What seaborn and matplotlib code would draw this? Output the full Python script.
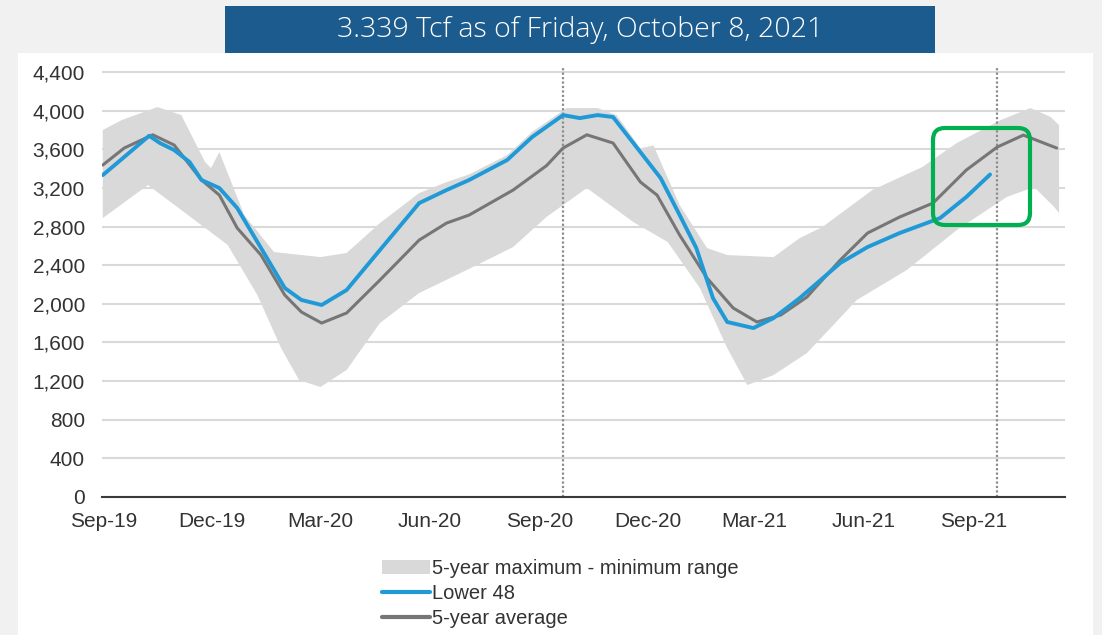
import seaborn as sns
import matplotlib
matplotlib.use("Agg")
import matplotlib.pyplot as plt
import matplotlib.dates as mdates
import matplotlib.ticker as mticker
from matplotlib.patches import Patch, Rectangle, FancyBboxPatch
from matplotlib.lines import Line2D
from matplotlib.transforms import IdentityTransform
import pandas as pd

# weekly working gas in storage, Bcf
avg_dates = ["2019-08-31", "2019-09-18", "2019-10-12", "2019-10-30", "2019-11-22", "2019-12-07",
             "2019-12-22", "2020-01-11", "2020-01-31", "2020-02-14", "2020-03-02", "2020-03-23",
             "2020-04-20", "2020-05-23", "2020-06-15", "2020-07-04", "2020-08-10", "2020-09-07",
             "2020-09-21", "2020-10-11", "2020-11-02", "2020-11-25", "2020-12-09", "2020-12-28",
             "2021-01-20", "2021-02-11", "2021-03-03", "2021-03-23", "2021-04-14", "2021-05-12",
             "2021-06-04", "2021-07-01", "2021-07-29", "2021-08-26", "2021-09-21", "2021-10-13",
             "2021-11-10"]
avg_vals = [3437, 3613, 3750, 3644, 3282, 3126, 2785, 2505, 2091, 1915, 1801, 1905,
            2246, 2660, 2836, 2919, 3178, 3430, 3613, 3750, 3665, 3261, 3126, 2712,
            2267, 1957, 1812, 1884, 2070, 2453, 2733, 2899, 3043, 3385, 3623, 3747,
            3613]

l48_dates = ["2019-08-31", "2019-09-18", "2019-10-09", "2019-10-18", "2019-10-30", "2019-11-12",
             "2019-11-22", "2019-12-07", "2019-12-22", "2020-01-11", "2020-01-31", "2020-02-14",
             "2020-03-02", "2020-03-23", "2020-04-20", "2020-05-23", "2020-06-15", "2020-07-04",
             "2020-08-05", "2020-08-26", "2020-09-21", "2020-10-05", "2020-10-20", "2020-11-02",
             "2020-11-25", "2020-12-12", "2020-12-28", "2021-01-11", "2021-01-25", "2021-02-06",
             "2021-02-28", "2021-03-17", "2021-04-08", "2021-05-12", "2021-06-04", "2021-07-01",
             "2021-08-04", "2021-08-26", "2021-09-15"]
l48_vals = [3333, 3520, 3740, 3665, 3592, 3468, 3282, 3199, 2992, 2578, 2164, 2040,
            1988, 2143, 2557, 3043, 3178, 3282, 3489, 3727, 3954, 3923, 3954, 3934,
            3571, 3302, 2919, 2578, 2060, 1812, 1749, 1853, 2060, 2422, 2588, 2733,
            2888, 3106, 3339]

band_hi_dates = ["2019-08-31", "2019-09-16", "2019-10-16", "2019-11-05", "2019-11-25", "2019-11-30",
                 "2019-12-07", "2019-12-28", "2020-01-22", "2020-03-01", "2020-03-23", "2020-04-20",
                 "2020-05-23", "2020-06-15", "2020-07-04", "2020-08-05", "2020-08-26", "2020-09-24",
                 "2020-10-20", "2020-11-05", "2020-11-25", "2020-12-06", "2020-12-28", "2021-01-20",
                 "2021-02-06", "2021-03-17", "2021-04-08", "2021-04-27", "2021-06-08", "2021-07-20",
                 "2021-08-18", "2021-09-24", "2021-10-19", "2021-11-05", "2021-11-12"]
band_hi = [3800, 3903, 4037, 3955, 3468, 3406, 3571, 2919, 2536, 2484, 2526, 2836,
           3147, 3260, 3340, 3540, 3780, 4027, 4027, 3954, 3610, 3640, 3023, 2578,
           2505, 2484, 2681, 2795, 3178, 3416, 3665, 3903, 4027, 3934, 3850]

band_lo_dates = ["2019-08-31", "2019-10-08", "2019-11-14", "2019-12-14", "2020-01-08", "2020-01-28",
                 "2020-02-12", "2020-03-01", "2020-03-23", "2020-04-20", "2020-05-23", "2020-07-02",
                 "2020-08-10", "2020-09-07", "2020-10-11", "2020-11-19", "2020-12-18", "2021-01-14",
                 "2021-02-06", "2021-02-23", "2021-03-17", "2021-04-14", "2021-05-26", "2021-07-07",
                 "2021-08-18", "2021-09-29", "2021-10-22", "2021-11-08", "2021-11-12"]
band_lo = [2888, 3230, 2888, 2610, 2090, 1540, 1211, 1139, 1315, 1801, 2112, 2350,
           2588, 2899, 3199, 2847, 2640, 2164, 1542, 1159, 1263, 1490, 2040, 2350,
           2764, 3106, 3209, 3002, 2940]

report_dates = ["2020-09-21", "2021-09-21"]
title = "3.339 Tcf as of Friday, October 8, 2021"

BLUE = "#1f9ad6"
AVG = "#767676"
BAND = "#d9d9d9"

sns.set_style("white")
plt.rcParams["font.family"] = ["Liberation Sans", "DejaVu Sans"]

fig = plt.figure(figsize=(11.02, 6.35), dpi=100, facecolor="#f1f1f1")
# white chart panel and blue header banner
fig.add_artist(Rectangle((18 / 1102, 0), 1075 / 1102, 582 / 635, transform=fig.transFigure,
                         facecolor="white", edgecolor="none", zorder=0))
fig.add_artist(Rectangle((225 / 1102, 1 - 53 / 635), 710 / 1102, 47 / 635, transform=fig.transFigure,
                         facecolor="#1c5b8e", edgecolor="none", zorder=1))
fig.text(580 / 1102, 1 - 30 / 635, title, color="white", ha="center", va="center",
         fontsize=20.5, family=["Open Sans", "DejaVu Sans"], fontweight="light")

ax = fig.add_axes([101.6 / 1102, 1 - 497 / 635, (1065 - 101.6) / 1102, (497 - 67.2) / 635])
ax.set_facecolor("none")

hi = pd.to_datetime(band_hi_dates)
lo = pd.to_datetime(band_lo_dates)
ax.fill(list(hi) + list(lo[::-1]), band_hi + band_lo[::-1], color=BAND, lw=0, zorder=1)

df_avg = pd.DataFrame({"date": pd.to_datetime(avg_dates), "bcf": avg_vals})
df_l48 = pd.DataFrame({"date": pd.to_datetime(l48_dates), "bcf": l48_vals})
sns.lineplot(data=df_avg, x="date", y="bcf", color=AVG, lw=2.2, ax=ax, zorder=3)
sns.lineplot(data=df_l48, x="date", y="bcf", color=BLUE, lw=2.8, ax=ax, zorder=4)

for d in pd.to_datetime(report_dates):
    ax.axvline(d, color="#8c8c8c", lw=1.6, ls=(0, (1, 1)), zorder=2)

ax.set_xlim(pd.Timestamp("2019-08-30"), pd.Timestamp("2021-11-17"))
ax.set_ylim(0, 4450)
ax.yaxis.set_major_locator(mticker.MultipleLocator(400))
ax.yaxis.set_major_formatter(mticker.StrMethodFormatter("{x:,.0f}"))
ax.xaxis.set_major_locator(mdates.MonthLocator(bymonth=[3, 6, 9, 12]))
ax.xaxis.set_major_formatter(mdates.DateFormatter("%b-%y"))
ax.grid(axis="y", color="#d9d9d9", lw=1.5, zorder=0)
ax.set_axisbelow(True)
for s in ["left", "top", "right"]:
    ax.spines[s].set_visible(False)
ax.spines["bottom"].set_color("#3a3a3a")
ax.spines["bottom"].set_linewidth(1.5)
ax.tick_params(axis="y", length=0, pad=12, labelsize=15, labelcolor="#333333")
ax.tick_params(axis="x", length=5, width=1.2, color="#3a3a3a", pad=6, labelsize=15,
               labelcolor="#333333", direction="out")
ax.set_xlabel("")
ax.set_ylabel("")

handles = [Patch(facecolor=BAND, edgecolor="none"),
           Line2D([], [], color=BLUE, lw=3),
           Line2D([], [], color=AVG, lw=3)]
labels = ["5-year maximum - minimum range", "Lower 48", "5-year average"]
fig.legend(handles, labels, loc="upper left", bbox_to_anchor=(374 / 1102, 1 - 551 / 635),
           frameon=False, fontsize=14.5, handlelength=2.4, handletextpad=0.1,
           labelspacing=0.3, borderaxespad=0, labelcolor="#333333")

# green highlight around the latest weeks
fig.add_artist(FancyBboxPatch((933, 635 - 225), 97, 97, boxstyle="round,pad=0,rounding_size=12",
                              transform=IdentityTransform(), facecolor="none",
                              edgecolor="#00b050", lw=3, zorder=10))

fig.savefig("out.png", dpi=100, facecolor=fig.get_facecolor())
